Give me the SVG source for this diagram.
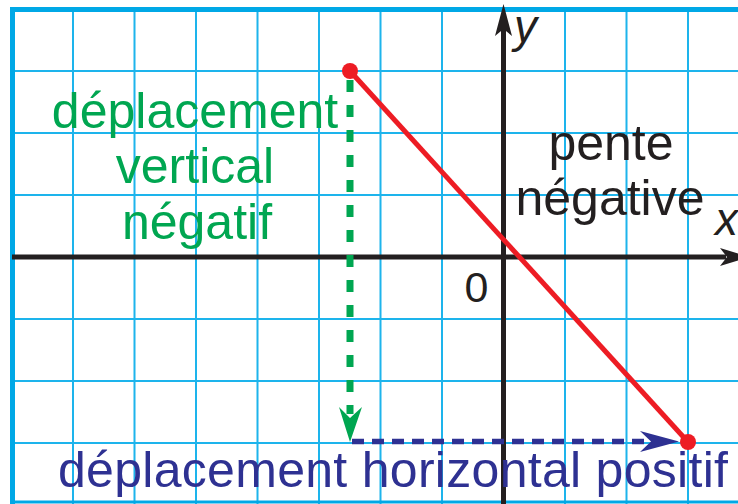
<svg xmlns="http://www.w3.org/2000/svg" width="738" height="504" viewBox="0 0 738 504">
  <style>
    .grid { stroke: #1db4ec; stroke-width: 2; fill: none; }
    .border { stroke: #00a8e6; stroke-width: 5; fill: none; }
    .axis { stroke: #231f20; stroke-width: 5; fill: none; }
    .txt { font-family: "Liberation Sans", Arial, sans-serif; font-size: 50px; }
    .green { fill: #00a651; }
    .navy { fill: #2e3192; }
    .dark { fill: #231f20; }
  </style>
  <rect x="0" y="0" width="738" height="504" fill="#ffffff"/>
  <g id="grid">
    <path class="grid" d="M73,9 V504 M134.5,9 V504 M196,9 V504 M257.5,9 V504 M319,9 V504 M380.5,9 V504 M442,9 V504 M565,9 V504 M626.5,9 V504 M688,9 V504"/>
    <path class="grid" d="M12,71 H738 M12,133 H738 M12,195 H738 M12,319 H738 M12,381 H738 M12,443 H738"/>
    <path class="border" d="M738,9.5 H12.5 V504"/>
    <path d="M12,502 H738" stroke="#00a8e6" stroke-width="3" fill="none"/>
  </g>
  <g id="axes">
    <path class="axis" d="M12,257 H726"/>
    <polygon fill="#231f20" points="749,257 720,248 727,257 720,266"/>
    <path class="axis" d="M503.5,504 V28"/>
    <polygon fill="#231f20" points="503.5,4 512,36 503.5,29 495,36"/>
  </g>
  <g id="labels-axes">
    <text class="txt dark" x="514" y="42" font-size="46" font-style="italic" style="font-size:46px">y</text>
    <text class="txt dark" x="715" y="235" style="font-size:46px" font-style="italic">x</text>
    <text class="txt dark" x="476.5" y="302" text-anchor="middle" style="font-size:43px">0</text>
  </g>
  <g id="connectors">
    <path d="M350,80 V414" stroke="#00a651" stroke-width="7" stroke-dasharray="12 13" fill="none"/>
    <polygon fill="#00a651" points="350,442 339,407 350,418 362,407"/>
    <path d="M352,441.5 H648" stroke="#2e3192" stroke-width="5.5" stroke-dasharray="12 8" fill="none"/>
    <polygon fill="#2e3192" points="679,441.5 640,431 651,441.5 640,452"/>
  </g>
  <g id="line">
    <path d="M350,71 L688,442" stroke="#ed1c24" stroke-width="5" fill="none"/>
    <circle cx="350" cy="71" r="8" fill="#ed1c24"/>
    <circle cx="688" cy="442" r="8" fill="#ed1c24"/>
  </g>
  <g id="label-vertical">
    <text class="txt green" x="195" y="128" text-anchor="middle">déplacement</text>
    <text class="txt green" x="195" y="183" text-anchor="middle">vertical</text>
    <text class="txt green" x="197" y="239" text-anchor="middle">négatif</text>
  </g>
  <g id="label-slope">
    <text class="txt dark" x="611" y="160" text-anchor="middle">pente</text>
    <text class="txt dark" x="610" y="215" text-anchor="middle">négative</text>
  </g>
  <g id="label-horizontal">
    <text class="txt navy" x="58" y="487" textLength="670" lengthAdjust="spacing">déplacement horizontal positif</text>
  </g>
</svg>
